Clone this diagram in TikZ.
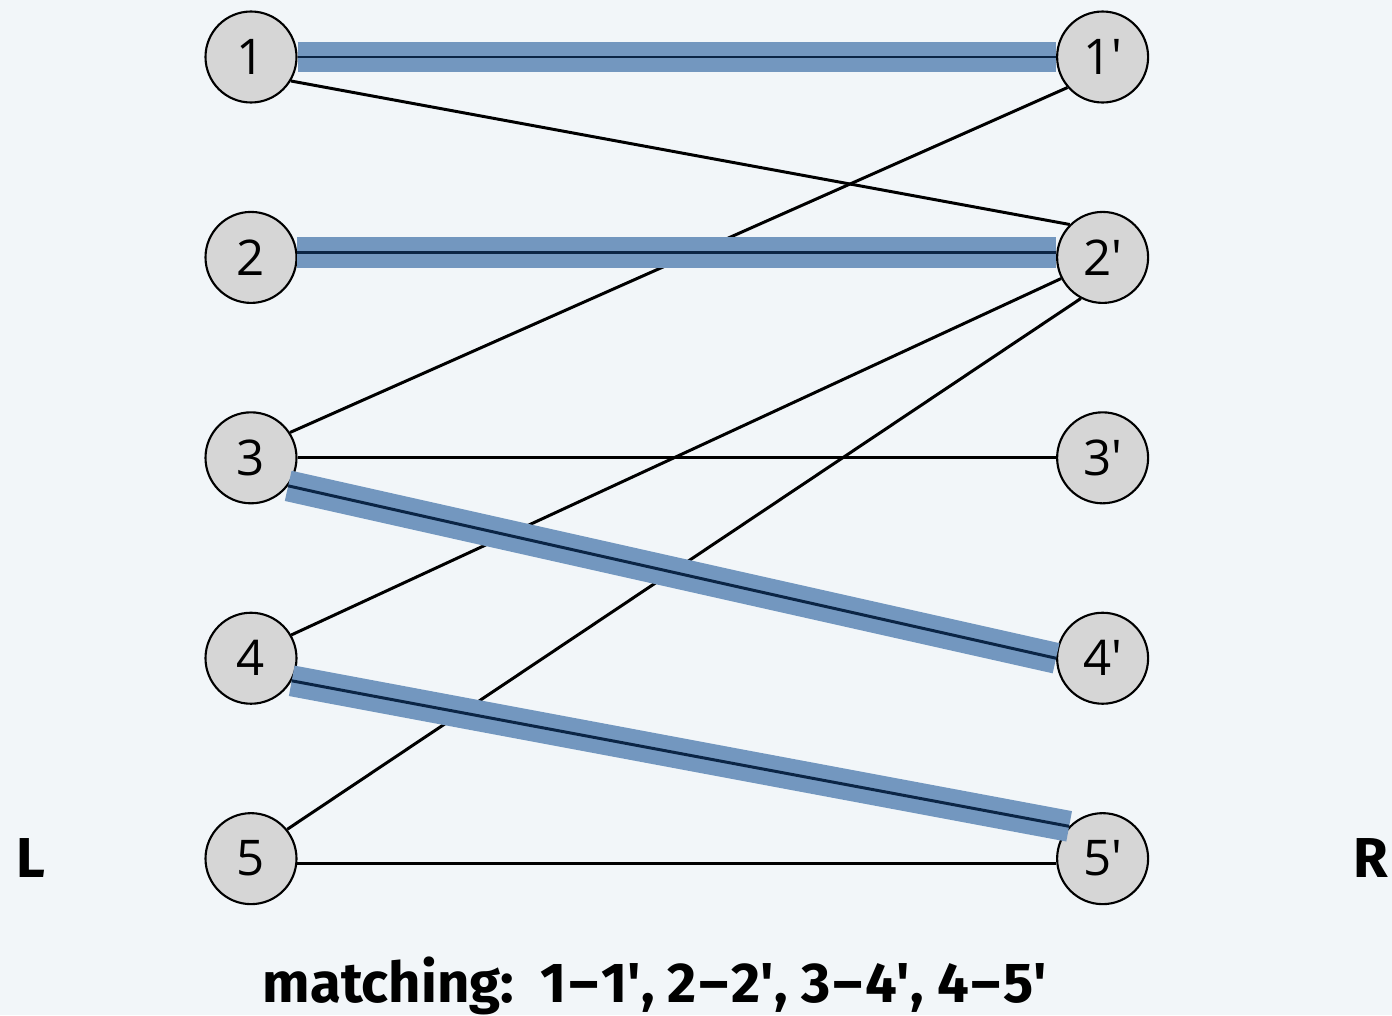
\documentclass[tikz,border=0pt]{standalone}
\usepackage{fontspec}
\setmainfont{Open Sans}
\newfontfamily\capfont{Fira Sans}
\usepackage{tikz}
\usetikzlibrary{positioning}
\definecolor{canvas}{HTML}{F2F6F9}
\definecolor{vertexgray}{HTML}{D6D6D6}
\definecolor{matchblue}{HTML}{7397BF}
\definecolor{matchnavy}{HTML}{0B2545}
\newcommand{\pr}{\textquotesingle}
\newcommand{\pairdash}{\kern0.8pt–\kern0.8pt}

\begin{document}
\begin{tikzpicture}[font=\fontsize{14}{16}\selectfont,
  vertex/.style={circle,draw=black,line width=0.6pt,fill=vertexgray,
                 minimum size=0.91cm,inner sep=0pt},
  edge/.style={draw=black,line width=0.85pt},
  matched/.style={preaction={draw=matchblue,line width=8.8pt},
                  draw=matchnavy,line width=0.85pt},
  side/.style={font=\capfont\bfseries\fontsize{16}{19}\selectfont}]
\fill[canvas] (0,0) rectangle (13.92,10.15);
\useasboundingbox (0,0) rectangle (13.92,10.15);

% left side
\node[vertex] (l1) at (2.51,9.58) {1};
\node[vertex,below=1.073cm of l1] (l2) {2};
\node[vertex,below=1.073cm of l2] (l3) {3};
\node[vertex,below=1.073cm of l3] (l4) {4};
\node[vertex,below=1.073cm of l4] (l5) {5};
% right side
\node[vertex,right=7.585cm of l1] (r1) {1\pr};
\node[vertex,right=7.585cm of l2] (r2) {2\pr};
\node[vertex,right=7.585cm of l3] (r3) {3\pr};
\node[vertex,right=7.585cm of l4] (r4) {4\pr};
\node[vertex,right=7.585cm of l5] (r5) {5\pr};

\node[side] (left) at (0.31,1.57) {L};
\node[side] (right) at (13.71,1.57) {R};

% unmatched edges
\draw[edge] (l1.-31) -- (r2.135);
\draw[edge] (l3.33) -- (r1.221);
\draw[edge] (l3.east) -- (r3.west);
\draw[edge] (l4.30) -- (r2.207);
\draw[edge] (l5.39) -- (r2.242);
\draw[edge] (l5.-6) -- (r5.186);
% matching
\draw[matched] (l1.east) -- (r1.west);
\draw[matched] (l2.6) -- (r2.174);
\draw[matched] (l3.-37) -- (r4.west);
\draw[matched] (l4.-29) -- (r5.136);

\node[side,anchor=base] (caption) at (6.55,0.13)
  {matching:\ \ 1\pairdash1\pr, 2\pairdash2\pr, 3\pairdash4\pr, 4\pairdash5\pr};
\end{tikzpicture}
\end{document}
